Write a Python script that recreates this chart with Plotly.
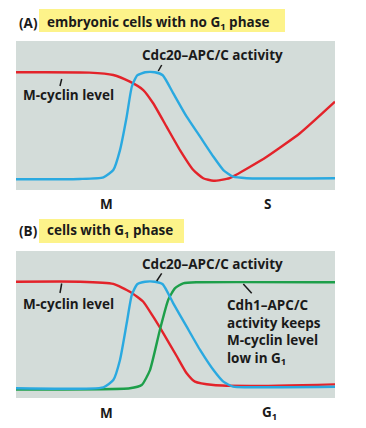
import plotly.graph_objects as go

# ---------------- data (time 0-100 across panel, level 0-100) ----------------
a_red_t = [0, 23, 30.5, 35.7, 39.9, 43.0, 47.2, 51.4, 55.6, 58.7, 61.9, 67.0, 73.4, 78.6, 89.0, 100]
a_red_y = [79, 78.8, 77.2, 72.7, 67.1, 58.2, 42.5, 26.8, 13.4, 7.9, 6.2, 8.0, 15.6, 22.3, 38.1, 59.3]

a_blue_t = [0, 20, 27.4, 30.5, 32.6, 34.7, 36.3, 38.0, 40.5, 43.5, 46.0, 49.3, 53.5, 57.7, 61.9, 65.0, 68.1, 72.3, 100]
a_blue_y = [7.2, 7.4, 8.5, 13.4, 26.8, 49.2, 69.3, 77.0, 79.0, 79.0, 77.0, 64.9, 49.2, 35.8, 22.3, 13.4, 8.9, 7.9, 7.9]

b_red_t = [0, 20.1, 30.5, 35.7, 39.9, 43.0, 46.2, 50.4, 53.5, 56.1, 61.9, 73.4, 100]
b_red_y = [79.1, 79.1, 77.6, 72.3, 65.5, 55.3, 44.0, 28.4, 16.8, 11.1, 8.8, 8.2, 9.3]

b_blue_t = [0, 27.4, 30.5, 32.6, 34.7, 36.3, 38.0, 40.5, 43.5, 46.0, 49.3, 53.5, 57.7, 61.9, 65.0, 68.1, 72.3, 100]
b_blue_y = [6.6, 7.3, 12.2, 25.9, 50.8, 70.1, 77.4, 79.1, 79.1, 77.4, 64.4, 48.5, 32.7, 19.0, 11.1, 7.7, 7.3, 7.7]

b_green_t = [0, 35.7, 39.4, 42.0, 45.1, 47.7, 49.8, 52.4, 56.6, 100]
b_green_y = [5.8, 6.6, 8.8, 19.0, 46.3, 66.7, 74.6, 78.0, 78.7, 78.7]

a_tick_vals = [28.5, 78.7]
a_tick_text = ["M", "S"]
b_tick_vals = [28.5, 79.6]
b_tick_text = ["M", "G<sub>1</sub>"]

title_a = "embryonic cells with no G<sub>1</sub> phase"
title_b = "cells with G<sub>1</sub> phase"
label_cdc20 = "Cdc20–APC/C activity"
label_mcyclin = "M-cyclin level"
label_cdh1 = "Cdh1–APC/C<br>activity keeps<br>M-cyclin level<br>low in G<sub>1</sub>"

# ---------------- styling ----------------
W, H = 366, 428
RED = "#e3232a"
BLUE = "#2aa9e0"
GREEN = "#1d9f4a"
BG = "#d3dcd9"
YELLOW = "#fdf38a"
FONT = "Open Sans"
FS = 13.5
LW = 2.4


def px(x):
    return x / W


def py(y):
    return 1 - y / H


fig = go.Figure()

def add(t, y, color, xa, ya):
    fig.add_trace(go.Scatter(x=t, y=y, mode="lines", line=dict(color=color, width=LW, shape="spline", smoothing=0.5),
                             xaxis=xa, yaxis=ya, hoverinfo="skip", showlegend=False))

add(a_red_t, a_red_y, RED, "x", "y")
add(a_blue_t, a_blue_y, BLUE, "x", "y")
add(b_red_t, b_red_y, RED, "x2", "y2")
add(b_green_t, b_green_y, GREEN, "x2", "y2")
add(b_blue_t, b_blue_y, BLUE, "x2", "y2")

xdom = [px(16), px(335)]
axis_common = dict(range=[0, 100], showgrid=False, zeroline=False, showline=False, fixedrange=True,
                   showticklabels=False)
fig.update_layout(
    width=W, height=H, margin=dict(l=0, r=0, t=0, b=0),
    paper_bgcolor="white", plot_bgcolor=BG,
    xaxis=dict(domain=xdom, anchor="y", **axis_common),
    yaxis=dict(domain=[py(190), py(41)], anchor="x", **axis_common),
    xaxis2=dict(domain=xdom, anchor="y2", **axis_common),
    yaxis2=dict(domain=[py(398), py(251)], anchor="x2", **axis_common),
)

shapes = []
# yellow title boxes
shapes.append(dict(type="rect", xref="paper", yref="paper", x0=px(39), x1=px(285), y0=py(32), y1=py(9),
                   fillcolor=YELLOW, line=dict(width=0), layer="below"))
shapes.append(dict(type="rect", xref="paper", yref="paper", x0=px(39), x1=px(184), y0=py(243), y1=py(219),
                   fillcolor=YELLOW, line=dict(width=0), layer="below"))
# leader lines
for (x0, y0, x1, y1) in [(61.7, 79, 60, 86), (158.3, 71, 161.7, 65), (61.7, 283.5, 60, 293),
                         (156.7, 281, 161.7, 273.3), (243.3, 284, 251.7, 293.3)]:
    shapes.append(dict(type="line", xref="paper", yref="paper", x0=px(x0), y0=py(y0), x1=px(x1), y1=py(y1),
                       line=dict(color="#1a1a1a", width=1.5)))
fig.update_layout(shapes=shapes)

font = dict(family=FONT, size=FS, color="#1a1a1a", weight="bold")
ann = []
def text(s, x, y, xanchor="center", align="center", xref="paper"):
    ann.append(dict(text=s, xref=xref, yref="paper", x=(x if xref != "paper" else px(x)), y=py(y),
                    xanchor=xanchor, yanchor="middle", showarrow=False, font=font, align=align))

text("(A)", 17, 23, "left")
text(title_a, 45, 23, "left")
text("(B)", 17, 231, "left")
text(title_b, 45, 231, "left")
text(label_cdc20, 212, 55)
text(label_mcyclin, 68, 95)
text(label_cdc20, 212, 264)
text(label_mcyclin, 68, 304)
text(label_cdh1, 225, 332, "left", "left")
# axis phase labels placed on the data scale
for v, s in zip(a_tick_vals, a_tick_text):
    text(s, v, 204, xref="x")
for v, s in zip(b_tick_vals, b_tick_text):
    text(s, v, 413, xref="x2")
fig.update_layout(annotations=ann)

fig.write_html("out.html", config={"displayModeBar": False, "staticPlot": True},
               post_script="document.body.style.margin='0';document.body.style.overflow='hidden';")
